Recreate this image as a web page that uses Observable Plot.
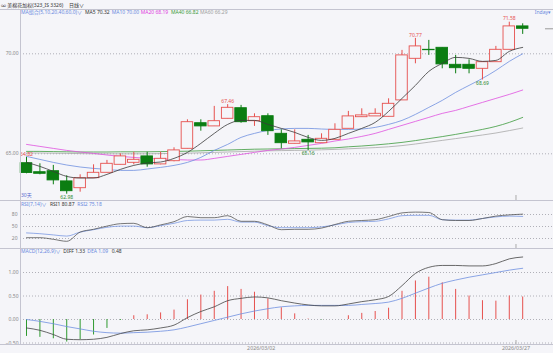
<!DOCTYPE html>
<html><head><meta charset="utf-8">
<script src="https://cdn.jsdelivr.net/npm/d3@7"></script>
<script src="https://cdn.jsdelivr.net/npm/@observablehq/plot@0.6"></script>
<style>
html,body{margin:0;padding:0;background:#f5f5f9;}
#c{position:relative;width:553px;height:353px;overflow:hidden;font-family:"Noto Sans","Noto Sans CJK SC",sans-serif;background:#f5f5f9;}
.t{position:absolute;white-space:nowrap;font-size:5px;line-height:1;transform:translateY(-50%);}
.hl{position:absolute;left:0;width:553px;height:1px;background:#c4c4d0;}
.vl{position:absolute;top:9px;left:19.5px;width:1px;height:335px;background:#c4c4d0;}
#c svg{position:absolute;left:0;overflow:visible;}
</style></head><body><div id="c"></div>
<script>
// ---- price candles (38 daily bars) ----
const open  = [64.53,64.08,64.13,63.62,63.28,63.78,64.05,64.45,64.55,64.87,64.47,64.63,65.25,66.53,66.37,66.75,67.28,66.63,66.88,66.00,65.50,65.70,65.53,65.70,66.25,66.83,66.87,66.85,67.67,69.75,70.20,70.30,69.45,69.45,69.25,69.58,70.20,71.37];
const high  = [64.82,64.50,64.42,63.90,63.95,64.45,64.67,65.00,65.08,65.08,65.08,65.30,66.70,66.70,67.37,67.46,67.42,67.00,67.00,66.20,66.20,65.92,66.00,66.50,67.12,67.25,67.25,67.75,70.17,70.77,70.67,70.30,69.92,69.70,69.58,70.37,71.58,71.50];
const low   = [64.00,63.95,63.45,62.98,63.08,63.78,64.05,64.45,64.45,64.33,64.45,64.60,65.25,66.13,66.37,66.75,66.53,66.37,65.92,65.25,65.50,65.16,65.53,65.70,66.25,66.83,66.87,66.85,67.67,69.50,69.92,69.25,69.00,69.00,68.69,69.58,70.20,70.97];
const close = [64.04,64.00,63.67,63.13,63.78,64.05,64.50,64.87,64.70,64.47,64.75,65.17,66.58,66.37,66.63,67.30,66.58,66.83,66.13,65.53,65.62,65.57,65.75,66.20,66.87,66.92,67.00,67.50,69.92,70.37,70.18,69.47,69.28,69.25,69.58,70.20,71.37,71.25];
// ---- moving averages ----
const ma5  = [64.57,64.37,64.12,63.87,63.79,63.79,63.97,64.22,64.42,64.54,64.59,64.77,65.07,65.52,66.02,66.47,66.67,66.67,66.47,66.27,66.07,65.82,65.67,65.77,66.02,66.27,66.57,67.12,67.77,68.42,69.12,69.52,69.82,69.77,69.62,69.67,70.12,70.32];
const ma10 = [64.87,64.72,64.57,64.44,64.34,64.27,64.22,64.17,64.17,64.24,64.32,64.42,64.57,64.82,65.17,65.47,65.82,66.02,66.17,66.24,66.27,66.27,66.24,66.22,66.22,66.24,66.32,66.47,66.67,66.97,67.32,67.67,68.07,68.42,68.77,69.17,69.62,70.00];
const ma20 = [65.47,65.37,65.27,65.17,65.09,65.02,64.94,64.87,64.82,64.77,64.74,64.72,64.69,64.69,64.77,64.87,64.97,65.07,65.17,65.24,65.32,65.42,65.52,65.64,65.74,65.87,66.02,66.22,66.42,66.62,66.82,67.02,67.17,67.37,67.57,67.77,67.97,68.19];
const ma40 = [65.12,65.12,65.11,65.10,65.09,65.09,65.09,65.10,65.10,65.10,65.11,65.12,65.13,65.15,65.17,65.19,65.21,65.23,65.24,65.25,65.26,65.27,65.28,65.30,65.35,65.39,65.44,65.50,65.57,65.66,65.76,65.86,65.97,66.09,66.22,66.37,66.57,66.82];
const ma60 = [65.04,65.04,65.03,65.02,65.01,65.00,65.00,65.00,65.00,65.00,65.01,65.02,65.03,65.05,65.07,65.09,65.11,65.13,65.15,65.16,65.17,65.18,65.20,65.22,65.25,65.28,65.31,65.35,65.41,65.49,65.58,65.67,65.76,65.85,65.94,66.04,66.16,66.29];
// ---- RSI ----
const rsi1 = [22,22,18,13,36,43,51,57,58,47,54,62,75,72,72,77,63,63,54,42,43,43,46,55,63,65,67,75,84,86,85,67,65,65,70,76,79,80.87];
const rsi2 = [34,32,29,26,36,42,48,51,51,47,52,58,65,66,66,68,61,61,52,47,47,47,49,54,60,62,63,69,77,78,78,67,66,66,70,74,76,75.18];
// ---- MACD ----
const diff = [-0.18,-0.23,-0.32,-0.42,-0.43,-0.42,-0.38,-0.30,-0.24,-0.22,-0.18,-0.12,0.04,0.17,0.27,0.40,0.45,0.48,0.46,0.40,0.35,0.31,0.29,0.29,0.33,0.38,0.42,0.49,0.72,0.98,1.11,1.15,1.15,1.14,1.14,1.19,1.29,1.33];
const dea  = [0.00,-0.04,-0.09,-0.15,-0.20,-0.25,-0.28,-0.29,-0.28,-0.27,-0.25,-0.22,-0.16,-0.09,-0.02,0.05,0.12,0.18,0.23,0.27,0.29,0.30,0.30,0.30,0.30,0.32,0.34,0.37,0.45,0.56,0.67,0.77,0.84,0.90,0.95,1.00,1.05,1.09];
const macd = [-0.36,-0.38,-0.41,-0.48,-0.43,-0.33,-0.19,-0.02,0.08,0.10,0.14,0.20,0.42,0.52,0.60,0.70,0.64,0.58,0.44,0.25,0.12,0.01,-0.01,0.00,0.08,0.13,0.17,0.24,0.60,0.82,0.90,0.78,0.64,0.50,0.40,0.39,0.50,0.48];
// ---- axis ticks / labels ----
const priceTicks = [65, 70];
const rsiTicks = [20, 50, 80];
const macdTicks = [-0.5, 0, 0.5, 1];
const dateLabels = ["2026/03/02", "2026/03/27"];
const dateIndex = [17.5, 36.5];
const markedDate = [36.5];
const highMarks = [0, 15, 29, 36];
const lowMarks = [3, 21, 34];

const RED = "#e6504e", GREEN = "#0b7d12", BG = "#f5f5f9";
const n = close.length;
const idx = d3.range(n);
const candles = idx.map(i => ({i, o: open[i], h: high[i], l: low[i], c: close[i], up: close[i] >= open[i]}));
const rows = idx.map(i => ({i, ma5: ma5[i], ma10: ma10[i], ma20: ma20[i], ma40: ma40[i], ma60: ma60[i],
  rsi1: rsi1[i], rsi2: rsi2[i], diff: diff[i], dea: dea[i], macd: macd[i]}));
const W = 0.43;
const xOpt = {domain: [0, 37], range: [26, 522.2], axis: null};
const style = {background: "transparent", fontFamily: "Noto Sans, sans-serif", fontSize: "5px", overflow: "visible"};
const c = document.getElementById("c");

// main price panel
const main = Plot.plot({
  width: 553, height: 191, marginLeft: 20, marginRight: 0, marginTop: 0, marginBottom: 0,
  style, x: xOpt, y: {domain: [65, 70], range: [144.3, 44.3]},
  marks: [
    Plot.gridY(priceTicks, {stroke: "#b0b0b8", strokeOpacity: 1, strokeDasharray: "1,2"}),
    Plot.axisY(priceTicks, {tickSize: 0, tickPadding: 2, tickFormat: d3.format(".2f"), fill: "#888", fontSize: 5}),
    Plot.line(rows, {x: "i", y: "ma60", stroke: "#a8a8a8", strokeWidth: 0.8, curve: "monotone-x"}),
    Plot.line(rows, {x: "i", y: "ma40", stroke: "#3c9a3c", strokeWidth: 0.8, curve: "monotone-x"}),
    Plot.line(rows, {x: "i", y: "ma20", stroke: "#e050e0", strokeWidth: 0.8, curve: "monotone-x"}),
    Plot.line(rows, {x: "i", y: "ma10", stroke: "#6f8fe0", strokeWidth: 0.8, curve: "monotone-x"}),
    Plot.ruleX(candles.filter(d => d.up), {x: "i", y1: "l", y2: "h", stroke: RED, strokeWidth: 1}),
    Plot.ruleX(candles.filter(d => !d.up), {x: "i", y1: "l", y2: "h", stroke: GREEN, strokeWidth: 1}),
    Plot.rect(candles.filter(d => d.up), {x1: d => d.i - W, x2: d => d.i + W, y1: "o", y2: "c", fill: BG, stroke: RED, strokeWidth: 0.9}),
    Plot.rect(candles.filter(d => !d.up), {x1: d => d.i - W, x2: d => d.i + W, y1: "o", y2: "c", fill: GREEN, stroke: GREEN, strokeWidth: 0.9}),
    Plot.line(rows, {x: "i", y: "ma5", stroke: "#3a3a3a", strokeWidth: 0.8, curve: "monotone-x"}),
    Plot.text(highMarks, {x: d => d, y: d => high[d], text: d => high[d].toFixed(2), dy: -3.5, fill: RED, fontSize: 5}),
    Plot.text(lowMarks, {x: d => d, y: d => low[d], text: d => low[d].toFixed(2), dy: 3.2, fill: "#2e8b2e", fontSize: 5}),
    Plot.ruleY([close[n - 1]], {x1: n + 0.7, x2: n + 1.3, stroke: "#999", strokeWidth: 1}),
    Plot.ruleX(markedDate, {insetTop: 186, stroke: "#aaa"})
  ]
});
main.style.top = "9px";
c.appendChild(main);

// RSI panel
const rsi = Plot.plot({
  width: 553, height: 48, marginLeft: 20, marginRight: 0, marginTop: 0, marginBottom: 0,
  style, x: xOpt, y: {domain: [20, 80], range: [38, 14]},
  marks: [
    Plot.gridY(rsiTicks, {stroke: "#b0b0b8", strokeOpacity: 1, strokeDasharray: "1,2"}),
    Plot.axisY(rsiTicks, {tickSize: 0, tickPadding: 3, fill: "#888", fontSize: 5}),
    Plot.line(rows, {x: "i", y: "rsi2", stroke: "#7a98e2", strokeWidth: 0.8, curve: "monotone-x"}),
    Plot.line(rows, {x: "i", y: "rsi1", stroke: "#555", strokeWidth: 0.8, curve: "monotone-x"}),
    Plot.ruleX(markedDate, {insetTop: 44, stroke: "#aaa"})
  ]
});
rsi.style.top = "200px";
c.appendChild(rsi);

// MACD panel
const dates = dateLabels.map((t, k) => ({t, i: dateIndex[k]}));
const mac = Plot.plot({
  width: 553, height: 105, marginLeft: 20, marginRight: 0, marginTop: 0, marginBottom: 9,
  style, x: xOpt, y: {domain: [0, 1], range: [71, 24]},
  marks: [
    Plot.gridY(macdTicks, {stroke: "#b0b0b8", strokeOpacity: 1, strokeDasharray: "1,2"}),
    Plot.axisY(macdTicks, {tickSize: 0, tickPadding: 2, tickFormat: d3.format(".2f"), fill: "#888", fontSize: 5}),
    Plot.ruleX(rows.filter(d => d.macd >= 0), {x: "i", y1: 0, y2: "macd", stroke: RED, strokeWidth: 1}),
    Plot.ruleX(rows.filter(d => d.macd < 0), {x: "i", y1: 0, y2: "macd", stroke: "#2f9a2f", strokeWidth: 1}),
    Plot.line(rows, {x: "i", y: "dea", stroke: "#6f8fe0", strokeWidth: 0.8, curve: "monotone-x"}),
    Plot.line(rows, {x: "i", y: "diff", stroke: "#444", strokeWidth: 0.8, curve: "monotone-x"}),
    Plot.ruleX(markedDate, {insetTop: 92, stroke: "#aaa"}),
    Plot.text(dates, {x: "i", frameAnchor: "bottom", text: "t", dy: 5, fill: "#888", fontSize: 5.3})
  ]
});
mac.style.top = "248px";
c.appendChild(mac);

// frame lines
[8.5, 199.5, 247.5, 343.5].forEach(y => {
  const d = document.createElement("div"); d.className = "hl"; d.style.top = y + "px"; c.appendChild(d);
});
const vl = document.createElement("div"); vl.className = "vl"; c.appendChild(vl);

// texts (legends / header)
const texts = [
  ["∞ 美棉花加权(323_IS 3326)", 1, 4.5, "#333"],
  ["日线∨", 69, 4.5, "#333"],
  ["MA组合(5,10,20,40,60,0)∨", 21, 12.3, "#6a8ae0"],
  ["MA5 " + ma5[n - 1].toFixed(2), 85, 12.3, "#333"],
  ["MA10 " + ma10[n - 1].toFixed(2), 111.7, 12.3, "#6a8ae0"],
  ["MA20 " + ma20[n - 1].toFixed(2), 140.7, 12.3, "#e040e0"],
  ["MA40 " + ma40[n - 1].toFixed(2), 171, 12.3, "#3c9a3c"],
  ["MA60 " + ma60[n - 1].toFixed(2), 200, 12.3, "#a0a0a0"],
  ["30天", 21, 195.3, "#5a6ad0"],
  ["RSI(7,14)∨", 21, 203.5, "#6a8ae0"],
  ["RSI1 " + rsi1[n - 1].toFixed(2), 50, 203.5, "#333"],
  ["RSI2 " + rsi2[n - 1].toFixed(2), 77.3, 203.5, "#6a8ae0"],
  ["MACD(12,26,9)∨", 21, 251.3, "#6a8ae0"],
  ["DIFF " + diff[n - 1].toFixed(2), 63.3, 251.3, "#333"],
  ["DEA " + dea[n - 1].toFixed(2), 87.3, 251.3, "#6a8ae0"],
  [macd[n - 1].toFixed(2), 111.7, 251.3, "#333"]
];
texts.forEach(([s, x, y, col]) => {
  const d = document.createElement("div"); d.className = "t";
  d.textContent = s; d.style.left = x + "px"; d.style.top = y + "px"; d.style.color = col;
  c.appendChild(d);
});
const tr = document.createElement("div"); tr.className = "t";
tr.textContent = "Inday▾"; tr.style.right = "2px"; tr.style.top = "12px"; tr.style.color = "#6a8ae0";
c.appendChild(tr);
</script></body></html>
